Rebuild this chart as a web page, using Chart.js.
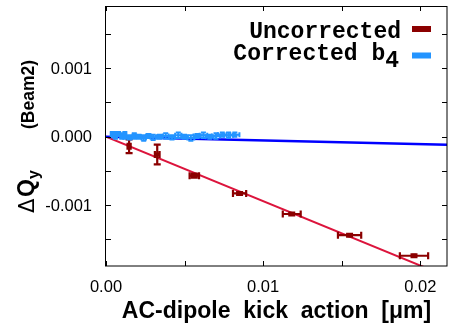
<!DOCTYPE html>
<html><head><meta charset="utf-8">
<script src="https://cdn.jsdelivr.net/npm/chart.js@4/dist/chart.umd.min.js"></script>
<style>html,body{margin:0;padding:0;background:#fff}canvas{display:block}</style>
</head><body>
<canvas id="c" width="451" height="324"></canvas>
<script>
// ---- data ----
const uncorrX    = [0.00147, 0.00326, 0.00562, 0.0085, 0.01182, 0.0155, 0.0196];
const uncorrY    = [-0.00014, -0.00026, -0.00057, -0.00083, -0.00113, -0.00144, -0.00174];
const uncorrXErr = [0.0001, 0.00015, 0.0003, 0.00042, 0.00057, 0.00074, 0.0009];
const uncorrYErr = [0.0001, 0.000145, 0.00003, 0.00002, 0.00002, 0.00002, 0.00002];

const corrX    = [0.0004, 0.0006, 0.0008, 0.0010, 0.0012, 0.0015, 0.0018, 0.0021, 0.0024, 0.0027, 0.0030, 0.0034,
                  0.0038, 0.0042, 0.0046, 0.0050, 0.0054, 0.0058, 0.0062, 0.0066, 0.0070, 0.0074, 0.0078, 0.0082];
const corrY    = [0.00003, 0.00002, 0.00004, 0.00001, 0.00002, -0.00001, 0.00001, 0.00000, -0.00002, 0.00001, -0.00001, 0.00000,
                  0.00001, -0.00001, 0.00002, 0.00000, -0.00002, 0.00001, 0.00002, 0.00000, 0.00001, 0.00003, 0.00002, 0.00003];
const corrXErr = [0.0001, 0.0001, 0.0001, 0.0001, 0.0001, 0.00012, 0.00012, 0.00013, 0.00014, 0.00015, 0.00016, 0.00017,
                  0.00018, 0.00019, 0.0002, 0.00021, 0.00022, 0.00023, 0.00024, 0.00025, 0.00026, 0.00027, 0.00028, 0.00029];
const corrYErr = [0.00004, 0.00005, 0.00003, 0.00004, 0.00005, 0.00003, 0.00004, 0.00003, 0.00004, 0.00003, 0.00004, 0.00003,
                  0.00004, 0.00003, 0.00004, 0.00003, 0.00004, 0.00003, 0.00004, 0.00003, 0.00004, 0.00003, 0.00004, 0.00003];

const fitX       = [0, 0.0217];
const fitUncorrY = [0, -0.002044];
const fitCorrY   = [0, -0.000117];

const xMajorTicks = [0.00, 0.01, 0.02];
const yMajorTicks = [-0.001, 0.000, 0.001];
const legendLabels = ['Uncorrected', 'Corrected b', '4'];
const xTitle = 'AC-dipole  kick  action  [\u03bcm]';
const yTitleParts = ['\u0394', 'Q', 'y', '(Beam2)'];

const RED = 'rgb(139,0,0)';
const BLUE = 'rgb(35,148,255)';
const FIT_RED = 'rgb(220,20,60)';
const FIT_BLUE = 'rgb(0,0,255)';

const pts = (xs, ys) => xs.map((x, i) => ({x, y: ys[i]}));
const near = (v, arr) => arr.some(m => Math.abs(v - m) < 1e-9);
const xFmt = v => near(v, xMajorTicks) ? v.toFixed(2) : '';
const yFmt = v => near(v, yMajorTicks) ? (Math.abs(v) < 1e-12 ? '0.000' : v.toFixed(3)) : '';

const errorBars = {
  id: 'errorBars',
  afterDatasetsDraw(chart) {
    const {ctx, chartArea: a, scales: {x, y}} = chart;
    ctx.save();
    ctx.beginPath(); ctx.rect(a.left, a.top, a.right - a.left, a.bottom - a.top); ctx.clip();
    const draw = (xs, ys, xe, ye, color, lw, cap) => {
      ctx.strokeStyle = color; ctx.lineWidth = lw;
      xs.forEach((xv, i) => {
        const px = x.getPixelForValue(xv), py = y.getPixelForValue(ys[i]);
        const x0 = x.getPixelForValue(xv - xe[i]), x1 = x.getPixelForValue(xv + xe[i]);
        const y0 = y.getPixelForValue(ys[i] - ye[i]), y1 = y.getPixelForValue(ys[i] + ye[i]);
        ctx.beginPath();
        ctx.moveTo(x0, py); ctx.lineTo(x1, py);
        ctx.moveTo(x0, py - cap); ctx.lineTo(x0, py + cap);
        ctx.moveTo(x1, py - cap); ctx.lineTo(x1, py + cap);
        ctx.moveTo(px, y0); ctx.lineTo(px, y1);
        ctx.moveTo(px - cap, y0); ctx.lineTo(px + cap, y0);
        ctx.moveTo(px - cap, y1); ctx.lineTo(px + cap, y1);
        ctx.stroke();
      });
    };
    draw(uncorrX, uncorrY, uncorrXErr, uncorrYErr, RED, 2.2, 3.5);
    draw(corrX, corrY, corrXErr, corrYErr, BLUE, 2, 2.5);
    ctx.restore();
  }
};

const frame = {
  id: 'frame',
  afterDraw(chart) {
    const {ctx, chartArea: a, scales: {x, y}} = chart;
    ctx.save();
    ctx.strokeStyle = '#000'; ctx.lineWidth = 1;
    ctx.beginPath();
    const L = 5;
    x.ticks.forEach(t => {
      const p = Math.round(x.getPixelForValue(t.value)) + 0.5;
      ctx.moveTo(p, a.bottom); ctx.lineTo(p, a.bottom - L);
      ctx.moveTo(p, a.top); ctx.lineTo(p, a.top + L);
    });
    y.ticks.forEach(t => {
      const p = Math.round(y.getPixelForValue(t.value)) + 0.5;
      ctx.moveTo(a.left, p); ctx.lineTo(a.left + L, p);
      ctx.moveTo(a.right, p); ctx.lineTo(a.right - L, p);
    });
    ctx.stroke();
    ctx.strokeRect(Math.round(a.left) - 0.5, Math.round(a.top) + 0.5, Math.round(a.right - a.left) + 0.5, Math.round(a.bottom - a.top) - 0.5);

    // tick labels
    ctx.fillStyle = '#000';
    ctx.font = '16.5px "Liberation Sans", Arial, sans-serif';
    ctx.textAlign = 'center'; ctx.textBaseline = 'alphabetic';
    x.ticks.forEach(t => {
      const s = xFmt(t.value);
      if (s) ctx.fillText(s, x.getPixelForValue(t.value), 292);
    });
    ctx.textAlign = 'right'; ctx.textBaseline = 'middle';
    y.ticks.forEach(t => {
      const s = yFmt(t.value);
      if (s) ctx.fillText(s, 92, y.getPixelForValue(t.value) + 1);
    });

    // legend
    ctx.font = 'bold 23px "Liberation Mono", "Courier New", monospace';
    ctx.textBaseline = 'alphabetic';
    ctx.textAlign = 'right';
    ctx.fillText(legendLabels[0], 401, 37.5);
    const w4 = ctx.measureText(legendLabels[2]).width;
    ctx.fillText(legendLabels[1], 399 - w4, 60);
    ctx.fillText(legendLabels[2], 399, 67);
    ctx.fillStyle = RED; ctx.fillRect(412, 26, 19, 6);
    ctx.fillStyle = BLUE; ctx.fillRect(412, 52.5, 19, 6);

    // x title
    ctx.fillStyle = '#000';
    ctx.textAlign = 'center';
    ctx.font = 'bold 23px "Liberation Sans", Arial, sans-serif';
    ctx.fillText(xTitle, (a.left + a.right) / 2, 318);

    // y title (rotated); screen y = cy - x'
    const cy = 136;
    ctx.save();
    ctx.translate(34, cy);
    ctx.rotate(-Math.PI / 2);
    ctx.textAlign = 'left';
    ctx.font = '21px "DejaVu Sans", sans-serif';
    ctx.fillText(yTitleParts[0], cy - 213, 0);
    ctx.font = 'bold 23px "Liberation Sans", Arial, sans-serif';
    ctx.fillText(yTitleParts[1], cy - 197, 0);
    ctx.font = 'bold 16px "Liberation Sans", Arial, sans-serif';
    ctx.fillText(yTitleParts[2], cy - 179, 5);
    ctx.textAlign = 'right';
    ctx.font = 'bold 17.5px "Liberation Sans", Arial, sans-serif';
    ctx.fillText(yTitleParts[3], cy - 60, 0);
    ctx.restore();
    ctx.restore();
  }
};

new Chart(document.getElementById('c'), {
  type: 'scatter',
  data: {
    datasets: [
      {label: 'Uncorrected', data: pts(uncorrX, uncorrY), pointStyle: 'rect', pointRadius: 2.8,
       backgroundColor: RED, borderColor: RED, borderWidth: 0, order: 2},
      {label: 'Corrected b4', data: pts(corrX, corrY), pointStyle: 'rect', pointRadius: 1.5,
       backgroundColor: BLUE, borderColor: BLUE, borderWidth: 0, order: 1},
      {label: 'fit uncorrected', data: pts(fitX, fitUncorrY), showLine: true, pointRadius: 0,
       borderColor: FIT_RED, borderWidth: 2, order: 4},
      {label: 'fit corrected', data: pts(fitX, fitCorrY), showLine: true, pointRadius: 0,
       borderColor: FIT_BLUE, borderWidth: 2.5, order: 3}
    ]
  },
  options: {
    responsive: false, animation: false, devicePixelRatio: 1,
    layout: {padding: {top: 6, right: 1, left: 0, bottom: 0}},
    plugins: {legend: {display: false}, tooltip: {enabled: false}},
    scales: {
      x: {
        type: 'linear', min: 0, max: 0.0217,
        grid: {display: false, drawTicks: false},
        border: {display: false},
        ticks: {display: false, stepSize: 0.005, includeBounds: false, autoSkip: false, callback: xFmt},
        afterFit: s => { s.height = 58; }
      },
      y: {
        type: 'linear', min: -0.00189, max: 0.00191,
        grid: {display: false, drawTicks: false},
        border: {display: false},
        ticks: {display: false, stepSize: 0.0005, includeBounds: false, autoSkip: false, callback: yFmt},
        afterFit: s => { s.width = 106; }
      }
    }
  },
  plugins: [errorBars, frame]
});
</script>
</body></html>
